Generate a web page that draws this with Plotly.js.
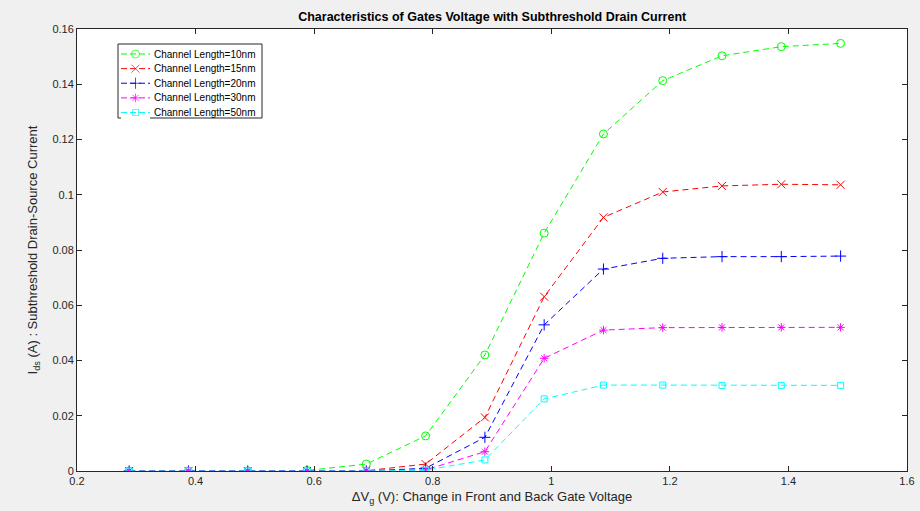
<!DOCTYPE html>
<html>
<head>
<meta charset="utf-8">
<script src="https://cdn.plot.ly/plotly-3.0.1.min.js"></script>
<style>html,body{margin:0;padding:0;background:#f0f0f0;}#chart{width:920px;height:511px;}</style>
</head>
<body>
<div id="chart"></div>
<script>
const gateVoltage = [0.288, 0.388, 0.488, 0.588, 0.688, 0.788, 0.888, 0.988, 1.088, 1.188, 1.288, 1.388, 1.488];
const current10nm = [0, 0, 0, 0.0002, 0.0025, 0.0127, 0.0420, 0.0861, 0.1220, 0.1413, 0.1503, 0.1536, 0.1548];
const current15nm = [0, 0, 0, 0, 0.0001, 0.0025, 0.0194, 0.0631, 0.0918, 0.1010, 0.1032, 0.1038, 0.1036];
const current20nm = [0, 0, 0, 0, 0, 0.0010, 0.0122, 0.0529, 0.0731, 0.0770, 0.0776, 0.0776, 0.0778];
const current30nm = [0, 0, 0, 0, 0, 0.0004, 0.0070, 0.0408, 0.0510, 0.0519, 0.0520, 0.0520, 0.0520];
const current50nm = [0, 0, 0, 0, 0, 0.0003, 0.0040, 0.0261, 0.0311, 0.0311, 0.0310, 0.0310, 0.0310];
const seriesNames = ['Channel Length=10nm', 'Channel Length=15nm', 'Channel Length=20nm', 'Channel Length=30nm', 'Channel Length=50nm'];
const xTicks = [0.2, 0.4, 0.6, 0.8, 1, 1.2, 1.4, 1.6];
const xTickLabels = ['0.2', '0.4', '0.6', '0.8', '1', '1.2', '1.4', '1.6'];
const yTicks = [0, 0.02, 0.04, 0.06, 0.08, 0.1, 0.12, 0.14, 0.16];
const yTickLabels = ['0', '0.02', '0.04', '0.06', '0.08', '0.1', '0.12', '0.14', '0.16'];

const allSeries = [current10nm, current15nm, current20nm, current30nm, current50nm];
const colors = ['#00ff00', '#ff0000', '#0000ff', '#ff00ff', '#00ffff'];
const symbols = ['circle-open', 'x-thin-open', 'cross-thin-open', 'asterisk-open', 'square-open'];
const sizes = [8, 8, 8, 7, 6];
const FONT = 'Liberation Sans, Arial, sans-serif';

const traces = allSeries.map((ys, i) => ({
  x: gateVoltage, y: ys, name: seriesNames[i], type: 'scatter', mode: 'lines+markers', showlegend: false,
  line: {color: colors[i], width: 1, dash: '6px,4px'},
  marker: {symbol: symbols[i], size: sizes[i], color: colors[i], line: {color: colors[i], width: 1}}
}));

// Custom compact legend (MATLAB-style row spacing) drawn on a hidden helper axis
seriesNames.forEach((name, i) => {
  traces.push({
    x: [0, 0.5, 1], y: [i, i, i], xaxis: 'x2', yaxis: 'y2', type: 'scatter', mode: 'lines+markers',
    showlegend: false, hoverinfo: 'skip', cliponaxis: false,
    line: {color: colors[i], width: 1, dash: '6px,3px'},
    marker: {symbol: symbols[i], size: [0, sizes[i], 0], color: colors[i], line: {color: colors[i], width: 1}}
  });
});

const plotL = 77, plotR = 907, plotT = 29, plotB = 471;
const pw = plotR - plotL, ph = plotB - plotT;
const px2x = p => (p - plotL) / pw;
const px2y = p => (plotB - p) / ph;
const rowTop = 54, rowBottom = 112.5;
const rowStep = (rowBottom - rowTop) / (seriesNames.length - 1);
const rowYs = seriesNames.map((_, i) => rowTop + i * rowStep);

const annotations = seriesNames.map((name, i) => ({
  text: name, xref: 'paper', yref: 'paper', x: px2x(152), y: px2y(rowYs[i]),
  xanchor: 'left', yanchor: 'middle', showarrow: false,
  font: {family: FONT, size: 10, color: '#000000'}
}));

const axisCommon = {
  showline: true, linecolor: '#262626', linewidth: 1, mirror: 'ticks',
  ticks: 'inside', ticklen: 5, tickcolor: '#262626', showgrid: false, zeroline: false,
  tickfont: {family: FONT, size: 11, color: '#262626'}
};

const layout = {
  width: 920, height: 511,
  paper_bgcolor: '#f0f0f0', plot_bgcolor: '#ffffff',
  margin: {l: 77, r: 13, t: 29, b: 40},
  showlegend: false,
  title: {text: '<b>Characteristics of Gates Voltage with Subthreshold Drain Current</b>',
    font: {family: FONT, size: 12.5, color: '#000000'},
    x: 0.535, xanchor: 'center', y: 0.968, yanchor: 'middle'},
  xaxis: Object.assign({}, axisCommon, {
    range: [0.2, 1.6], tickvals: xTicks, ticktext: xTickLabels,
    title: {text: 'ΔV<sub>g</sub> (V): Change in Front and Back Gate Voltage',
      font: {family: FONT, size: 13, color: '#262626'}, standoff: 5}
  }),
  yaxis: Object.assign({}, axisCommon, {
    range: [0, 0.16], tickvals: yTicks, ticktext: yTickLabels,
    title: {text: 'I<sub>ds</sub> (A) : Subthreshold Drain-Source Current',
      font: {family: FONT, size: 13, color: '#262626'}, standoff: 11}
  }),
  xaxis2: {domain: [px2x(121), px2x(150)], range: [0, 1], visible: false, anchor: 'y2', fixedrange: true},
  yaxis2: {domain: [px2y(rowBottom + rowStep / 2), px2y(rowTop - rowStep / 2)],
    range: [seriesNames.length - 0.5, -0.5], visible: false, anchor: 'x2', fixedrange: true},
  shapes: [{type: 'rect', xref: 'paper', yref: 'paper', x0: px2x(118), x1: px2x(262), y0: px2y(118), y1: px2y(44),
    fillcolor: '#ffffff', line: {color: '#262626', width: 1}, layer: 'below'}],
  annotations: annotations
};

Plotly.newPlot('chart', traces, layout, {displayModeBar: false, staticPlot: true});
</script>
</body>
</html>
